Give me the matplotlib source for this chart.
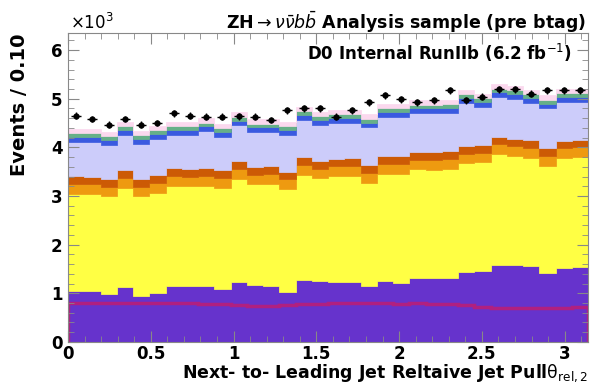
import numpy as np
import matplotlib
matplotlib.use("Agg")
import matplotlib.pyplot as plt
from matplotlib.ticker import MultipleLocator

plt.rcParams['font.family'] = ['DejaVu Sans']
plt.rcParams['mathtext.fontset'] = 'dejavusans'

# 32 bins over [0, pi], values in units of 10^3 events
nbins = 32
edges = np.linspace(0, np.pi, nbins + 1)

# cumulative boundaries
purple_top = [1.05, 1.04, 0.98, 1.12, 0.95, 1.01, 1.14, 1.15, 1.14, 1.09, 1.23, 1.16,
              1.15, 1.03, 1.27, 1.25, 1.24, 1.24, 1.14, 1.26, 1.21, 1.31, 1.31, 1.32,
              1.44, 1.45, 1.58, 1.58, 1.57, 1.41, 1.51, 1.53]
red_line = [0.80, 0.80, 0.79, 0.80, 0.80, 0.79, 0.80, 0.79, 0.78, 0.77, 0.76, 0.74,
            0.74, 0.76, 0.78, 0.78, 0.79, 0.79, 0.80, 0.79, 0.78, 0.79, 0.78, 0.78,
            0.76, 0.71, 0.70, 0.70, 0.70, 0.70, 0.69, 0.71]
orange_top = [3.41, 3.40, 3.35, 3.53, 3.35, 3.43, 3.57, 3.56, 3.57, 3.53, 3.71, 3.60,
              3.61, 3.50, 3.80, 3.72, 3.77, 3.78, 3.63, 3.82, 3.82, 3.91, 3.90, 3.92,
              4.03, 4.05, 4.22, 4.18, 4.15, 3.98, 4.14, 4.16]
lavender_top = [4.11, 4.11, 4.05, 4.25, 4.07, 4.17, 4.25, 4.26, 4.33, 4.21, 4.45, 4.31,
                4.31, 4.26, 4.56, 4.46, 4.50, 4.50, 4.41, 4.62, 4.62, 4.70, 4.70, 4.71,
                4.91, 4.83, 5.03, 5.00, 4.91, 4.80, 4.93, 4.94]
# thin bands
dark_orange = 0.16
light_orange = 0.20
blue_band = 0.10
green_band = 0.08
pink_band = 0.09

data = [4.65, 4.58, 4.47, 4.58, 4.47, 4.50, 4.70, 4.65, 4.63, 4.63, 4.64, 4.63,
        4.56, 4.76, 4.80, 4.80, 4.63, 4.76, 4.93, 5.07, 4.99, 4.93, 4.97, 5.17,
        4.97, 5.04, 5.20, 5.20, 5.10, 5.17, 5.17, 5.17]

purple_top = np.array(purple_top)
orange_top = np.array(orange_top)
lavender_top = np.array(lavender_top)
data = np.array(data)

def step(ax, lo, hi, color):
    lo = np.broadcast_to(np.asarray(lo, dtype=float), (nbins,))
    hi = np.asarray(hi, dtype=float)
    ax.fill_between(edges, np.append(lo, lo[-1]), np.append(hi, hi[-1]),
                    step='post', facecolor=color, edgecolor=color, lw=0.5)

fig = plt.figure(figsize=(5.97, 3.85), dpi=100)
ax = fig.add_axes([0.114, 0.112, 0.871, 0.802])

yellow_top = orange_top - dark_orange - light_orange
step(ax, 0, purple_top, '#6633cc')
step(ax, purple_top, yellow_top, '#ffff44')
step(ax, yellow_top, orange_top - dark_orange, '#ee9a10')
step(ax, orange_top - dark_orange, orange_top, '#cc5a05')
step(ax, orange_top, lavender_top, '#ccccfa')
b1 = lavender_top + blue_band
step(ax, lavender_top, b1, '#3a5ae0')
b2 = b1 + green_band
step(ax, b1, b2, '#66b088')
b3 = b2 + pink_band
step(ax, b2, b3, '#fbd8ee')

ax.stairs(red_line, edges, color='#b02080', lw=2.5)

centers = 0.5 * (edges[:-1] + edges[1:])
yerr = np.sqrt(data * 1000) / 1000
ax.errorbar(centers, data, yerr=yerr, xerr=0.03, fmt='o', color='black',
            ms=3.5, lw=1, capsize=0, zorder=5)

ax.set_xlim(0, np.pi)
ax.set_ylim(0, 6.35)
ax.xaxis.set_major_locator(MultipleLocator(0.5))
ax.xaxis.set_minor_locator(MultipleLocator(0.1))
ax.yaxis.set_major_locator(MultipleLocator(1))
ax.yaxis.set_minor_locator(MultipleLocator(0.2))
ax.set_xticks([0, 0.5, 1, 1.5, 2, 2.5, 3])
ax.set_xticklabels(['0', '0.5', '1', '1.5', '2', '2.5', '3'])
ax.tick_params(which='both', direction='in', top=True, right=True, colors='#888888',
               labelcolor='black', labelsize=12, pad=2)
ax.tick_params(axis='y', which='major', pad=4)
ax.tick_params(which='major', length=8)
ax.tick_params(which='minor', length=4)
for lab in ax.get_xticklabels() + ax.get_yticklabels():
    lab.set_fontweight('bold')
for s in ax.spines.values():
    s.set_color('#888888')
ax.set_axisbelow(False)

ax.set_xlabel(r'Next- to- Leading Jet Reltaive Jet Pull$\mathrm{\theta}_{\mathrm{rel,2}}$',
              fontsize=12.5, fontweight='bold', ha='right', x=1.0, labelpad=0)
ax.set_ylabel('Events / 0.10', fontsize=14, fontweight='bold', ha='right', y=1.0,
              labelpad=16)

fig.text(0.118, 0.925, r'$\times10^{3}$', fontsize=12, fontweight='bold')
fig.text(0.982, 0.925, r'ZH$\rightarrow\nu\bar{\nu}b\bar{b}$ Analysis sample (pre btag)',
         ha='right', fontsize=12.5, fontweight='bold')
fig.text(0.958, 0.843, 'D0 Internal RunIIb (6.2 fb$^{-1}$)', ha='right',
         fontsize=12, fontweight='bold')

fig.savefig('out.png', dpi=100)
